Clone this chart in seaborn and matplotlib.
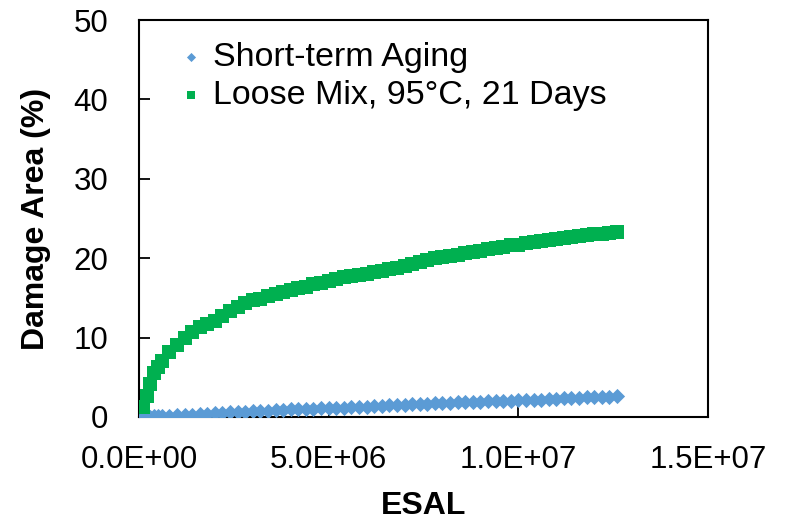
import matplotlib
matplotlib.use("Agg")
import matplotlib.pyplot as plt
import matplotlib.ticker as mticker
import seaborn as sns
import pandas as pd

# ESAL (millions) at which values were read
esal_millions = [0.1, 0.2, 0.3, 0.4, 0.5, 0.6, 0.8, 1.0, 1.2, 1.4, 1.6, 1.8, 2.0, 2.2, 2.4,
                 2.6, 2.8, 3.0, 3.2, 3.4, 3.6, 3.8, 4.0, 4.2, 4.4, 4.6, 4.8, 5.0, 5.2, 5.4,
                 5.6, 5.8, 6.0, 6.2, 6.4, 6.6, 6.8, 7.0, 7.2, 7.4, 7.6, 7.8, 8.0, 8.2, 8.4,
                 8.6, 8.8, 9.0, 9.2, 9.4, 9.6, 9.8, 10.0, 10.2, 10.4, 10.6, 10.8, 11.0, 11.2,
                 11.4, 11.6, 11.8, 12.0, 12.2, 12.4, 12.6]

short_term = [0.05, 0.05, 0.05, 0.08, 0.10, 0.12, 0.15, 0.20, 0.25, 0.30, 0.35, 0.42, 0.48,
              0.52, 0.58, 0.62, 0.65, 0.70, 0.75, 0.80, 0.85, 0.90, 0.95, 0.98, 1.00, 1.05,
              1.10, 1.12, 1.15, 1.18, 1.22, 1.25, 1.30, 1.35, 1.40, 1.45, 1.50, 1.55, 1.60,
              1.65, 1.70, 1.72, 1.75, 1.80, 1.85, 1.88, 1.90, 1.93, 1.96, 2.00, 2.02, 2.05,
              2.10, 2.15, 2.18, 2.20, 2.25, 2.30, 2.33, 2.37, 2.42, 2.47, 2.50, 2.53, 2.56,
              2.60]

loose_mix = [1.3, 2.6, 4.1, 5.5, 6.3, 7.0, 8.2, 9.1, 10.0, 10.7, 11.3, 11.7, 12.1, 12.7, 13.3,
             13.9, 14.4, 14.7, 14.9, 15.2, 15.5, 15.8, 16.0, 16.2, 16.4, 16.7, 16.9, 17.1,
             17.4, 17.6, 17.7, 17.9, 18.0, 18.2, 18.4, 18.6, 18.8, 19.0, 19.3, 19.5, 19.8,
             20.0, 20.1, 20.3, 20.4, 20.6, 20.8, 20.9, 21.1, 21.3, 21.4, 21.6, 21.7, 21.9,
             22.1, 22.2, 22.3, 22.4, 22.5, 22.7, 22.8, 22.9, 23.0, 23.1, 23.2, 23.3]

series_names = ["Short-term Aging", "Loose Mix, 95°C, 21 Days"]
x_ticks = [0, 5e6, 1e7, 1.5e7]
y_ticks = [0, 10, 20, 30, 40, 50]

esal = [v * 1e6 for v in esal_millions]
df_short = pd.DataFrame({"ESAL": esal, "Damage": short_term})
df_loose = pd.DataFrame({"ESAL": esal, "Damage": loose_mix})

sns.set_theme(style="white")
plt.rcParams["font.family"] = ["Liberation Sans", "DejaVu Sans"]
plt.rcParams["text.color"] = "black"
plt.rcParams["axes.labelcolor"] = "black"

fig = plt.figure(figsize=(7.88, 5.26), dpi=100)
ax = fig.add_axes([139 / 788, (526 - 417) / 526, (708 - 139) / 788, 397 / 526])

sns.scatterplot(data=df_short, x="ESAL", y="Damage", marker="D", s=60, color="#5B9BD5",
                linewidth=0, ax=ax, label=series_names[0], zorder=3)
sns.scatterplot(data=df_loose, x="ESAL", y="Damage", marker="s", s=95, color="#00B050",
                linewidth=0, ax=ax, label=series_names[1], zorder=3)

ax.set_xlim(0, 1.5e7)
ax.set_ylim(0, 50)
ax.set_xticks(x_ticks)
ax.set_yticks(y_ticks)
ax.xaxis.set_major_formatter(mticker.FuncFormatter(lambda v, p: f"{v:.1E}"))
ax.yaxis.set_major_formatter(mticker.FuncFormatter(lambda v, p: f"{v:.0f}"))

for s in ax.spines.values():
    s.set_visible(True)
    s.set_color("black")
    s.set_linewidth(1.5)

ax.tick_params(axis="both", direction="in", length=8, width=1.3, colors="black",
               labelcolor="black", labelsize=22.5, left=True, bottom=True)
ax.tick_params(axis="y", pad=22)
ax.tick_params(axis="x", pad=20)

ax.set_xlabel("ESAL", fontsize=23, fontweight="bold", labelpad=12, color="black")
ax.set_ylabel("Damage Area (%)", fontsize=23, fontweight="bold", labelpad=16, color="black")

leg = ax.legend(loc="upper left", bbox_to_anchor=(182 / 788, 1 - 42 / 526),
                bbox_transform=fig.transFigure, frameon=False, fontsize=24.5,
                handlelength=0.55, handletextpad=0.35, labelspacing=0.2,
                borderpad=0, borderaxespad=0, markerscale=0.6)
for t in leg.get_texts():
    t.set_color("black")

fig.savefig("out.png", dpi=100)
